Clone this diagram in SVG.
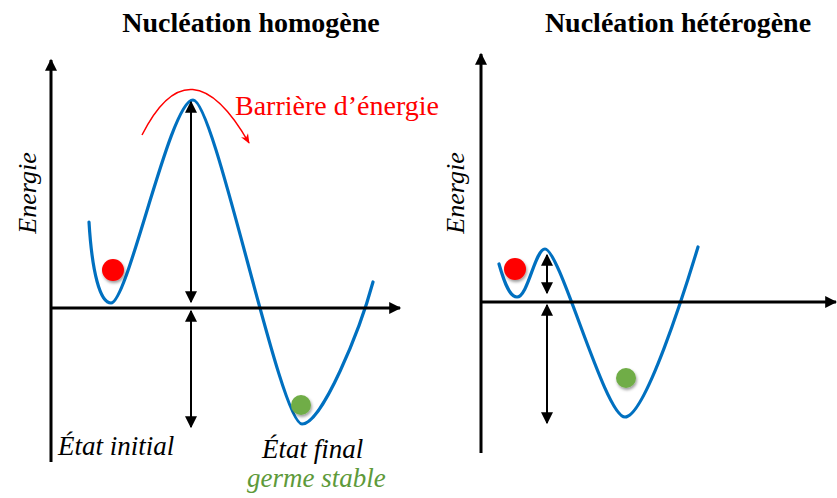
<svg xmlns="http://www.w3.org/2000/svg" width="837" height="498" viewBox="0 0 837 498">
<defs>
<style>
.axis{stroke:#000;stroke-width:3;fill:none}
.curve{stroke:#0070C0;stroke-width:3.2;fill:none;stroke-linecap:round}
.dim{stroke:#000;stroke-width:2;fill:none}
.title{font-family:"Liberation Serif","Times New Roman",serif;font-weight:bold;font-size:28px;fill:#000}
.lbl{font-family:"Liberation Serif","Times New Roman",serif;font-style:italic;font-size:27px;fill:#000}
.axl{font-family:"Liberation Serif","Times New Roman",serif;font-style:italic;font-size:26px;fill:#000}
.red{font-family:"Liberation Serif","Times New Roman",serif;font-size:28px;fill:#FF0000}
.green{fill:#5E9A3A}
</style>
<marker id="ah" viewBox="0 0 10 10" refX="9" refY="5" markerWidth="12" markerHeight="12" markerUnits="userSpaceOnUse" orient="auto-start-reverse"><path d="M0,0 L10,5 L0,10 z" fill="#000"/></marker>
<marker id="ax" viewBox="0 0 10 10" refX="9" refY="5" markerWidth="14" markerHeight="12" markerUnits="userSpaceOnUse" orient="auto"><path d="M0,0 L10,5 L0,10 z" fill="#000"/></marker>
<marker id="rh" viewBox="0 0 10 10" refX="9" refY="5" markerWidth="10" markerHeight="10" markerUnits="userSpaceOnUse" orient="auto"><path d="M0,1 L10,5 L0,9 L3,5 z" fill="#FF0000"/></marker>
<filter id="sh" x="-50%" y="-50%" width="200%" height="200%"><feDropShadow dx="1" dy="2" stdDeviation="1.5" flood-color="#000" flood-opacity="0.4"/></filter>
</defs>
<rect width="837" height="498" fill="#fff"/>

<g id="homogene">
<text class="title" x="251" y="32" text-anchor="middle">Nucléation homogène</text>
<text class="axl" transform="translate(36,193) rotate(-90)" text-anchor="middle">Energie</text>
<text class="lbl" x="58" y="455">État initial</text>
<text class="lbl" x="262" y="458">État final</text>
<text class="lbl green" x="247" y="487">germe stable</text>
<text class="red" x="235" y="115">Barrière d’énergie</text>
<path class="curve" d="M89,222 C92,272 100,303 111,303 C128,303 170,100 193,100 C215,100 280,424 302,424 C322,424 360,330 373,282"/>
<circle cx="113" cy="270" r="11" fill="#FF0000" filter="url(#sh)"/>
<circle cx="301" cy="405" r="10" fill="#70AD47" filter="url(#sh)"/>
</g>

<g id="heterogene">
<text class="title" x="678" y="32" text-anchor="middle">Nucléation hétérogène</text>
<text class="axl" transform="translate(464,193) rotate(-90)" text-anchor="middle">Energie</text>
<path class="curve" d="M499,264 C505,285 510,297 517,297 C528,297 535,249 545,249 C560,249 605,417 625,417 C645,417 685,290 698,247"/>
<circle cx="515" cy="269" r="11" fill="#FF0000" filter="url(#sh)"/>
<circle cx="626" cy="378" r="10" fill="#70AD47" filter="url(#sh)"/>
</g>

<g id="connectors">
<path class="axis" d="M51,462 V60" marker-end="url(#ax)"/>
<path class="axis" d="M51,308 H400" marker-end="url(#ax)"/>
<path class="dim" d="M191,102 V302" marker-start="url(#ah)" marker-end="url(#ah)"/>
<path class="dim" d="M191,311 V427" marker-start="url(#ah)" marker-end="url(#ah)"/>
<path d="M142,135 Q190,40 249,143" stroke="#FF0000" stroke-width="1.5" fill="none" marker-end="url(#rh)"/>
<path class="axis" d="M481,453 V54" marker-end="url(#ax)"/>
<path class="axis" d="M481,302 H836" marker-end="url(#ax)"/>
<path class="dim" d="M547,255 V293" marker-start="url(#ah)" marker-end="url(#ah)"/>
<path class="dim" d="M547,305 V423" marker-start="url(#ah)" marker-end="url(#ah)"/>
</g>
</svg>
